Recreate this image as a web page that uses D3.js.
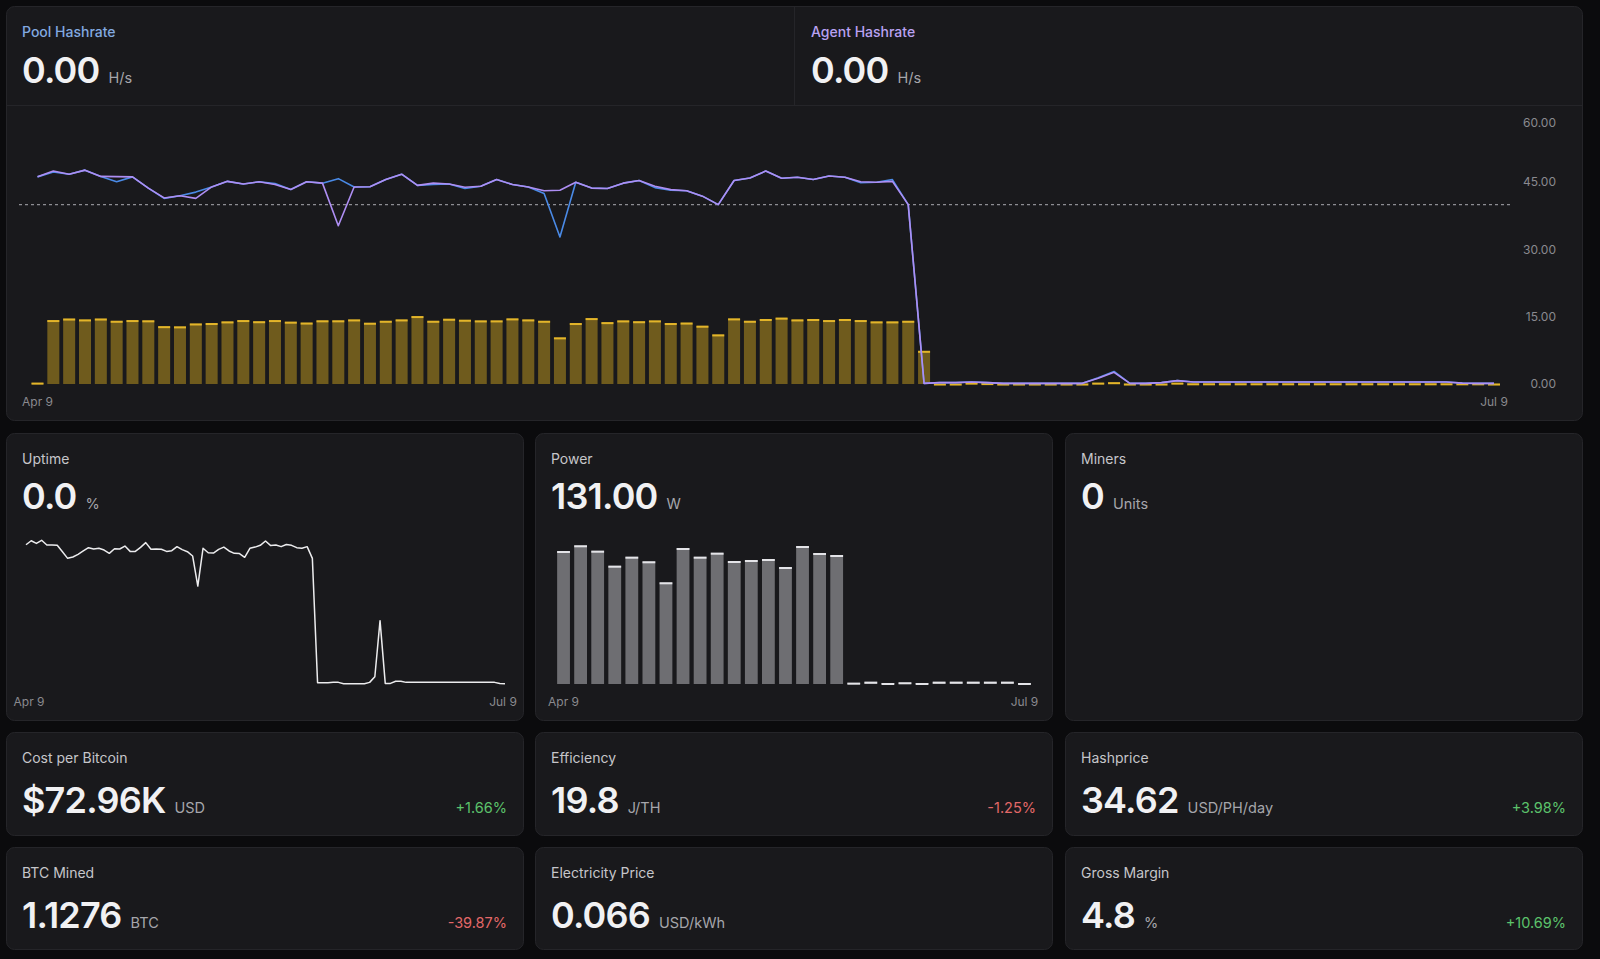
<!DOCTYPE html>
<html><head><meta charset="utf-8">
<script src="https://cdn.jsdelivr.net/npm/d3@7"></script>
<style>
html,body{margin:0;padding:0;background:#0b0b0d;overflow:hidden;}
svg{display:block;font-family:Inter,"Noto Sans",sans-serif;}
</style></head><body>
<svg id="c" width="1600" height="959"></svg>
<script>
// ---------- data ----------
const dateLabels = ["Apr 9", "Jul 9"];
const hashTicks = [0, 15, 30, 45, 60];
const targetHashrate = 40;

const agentHashrate = [46.2,47.5,46.8,47.7,46.3,46.25,46.2,43.7,41.5,42.0,
 41.4,43.95,45.2,44.6,45.1,44.5,43.4,45.1,44.8,35.3,
 43.95,44.0,45.6,46.8,44.3,44.8,44.6,43.9,44.1,45.6,
 44.5,43.95,43.1,43.2,45.0,43.7,43.6,44.8,45.4,44.1,
 43.35,43.1,41.9,40.0,45.4,45.95,47.5,45.9,46.1,45.6,
 46.4,46.1,45.1,45.0,45.2,40.0,0.15,0.3,0.3,0.45,
 0.3,0.15,0.15,0.15,0.15,0.15,0.15,1.3,2.6,0.15,
 0.15,0.3,0.75,0.45,0.45,0.45,0.45,0.45,0.45,0.45,
 0.45,0.45,0.45,0.45,0.45,0.45,0.45,0.45,0.45,0.45,
 0.2,0.15,0.15];

const poolHashrate = [46.2,47.3,46.8,47.7,46.3,45.1,46.2,43.7,41.4,42.0,
 42.8,43.95,45.2,44.6,45.1,44.7,43.4,45.1,44.8,45.8,
 43.95,44.0,45.6,46.8,44.3,44.5,44.6,43.6,44.1,45.6,
 44.5,43.95,42.5,32.8,45.0,43.7,43.6,44.8,45.4,43.8,
 43.2,43.1,41.9,40.0,45.4,45.95,47.5,45.9,46.1,45.6,
 46.4,46.1,44.9,45.0,45.6,40.0,0.15,0.3,0.3,0.45,
 0.3,0.15,0.15,0.15,0.15,0.15,0.15,1.4,2.8,0.15,
 0.15,0.3,0.75,0.45,0.45,0.45,0.45,0.45,0.45,0.45,
 0.45,0.45,0.45,0.45,0.45,0.45,0.45,0.45,0.45,0.45,
 0.2,0.15,0.15];

const hashBars = [0.3,14.26,14.6,14.4,14.6,14.1,14.26,14.2,12.9,12.85,
 13.5,13.6,13.96,14.26,14.0,14.26,13.9,13.7,14.2,14.2,
 14.4,13.66,14.1,14.4,15.15,14.1,14.55,14.33,14.18,14.18,
 14.63,14.4,14.1,10.4,13.6,14.7,13.8,14.18,14.0,14.18,
 13.6,13.7,13.0,11.06,14.63,14.1,14.5,14.8,14.4,14.5,
 14.26,14.5,14.26,13.96,13.96,14.1,7.4,0.1,0.1,0.3,
 0.2,0.1,0.1,0.1,0.1,0.1,0.1,0.3,0.4,0.1,
 0.1,0.1,0.3,0.15,0.15,0.15,0.15,0.15,0.15,0.15,
 0.15,0.15,0.15,0.15,0.15,0.15,0.15,0.15,0.15,0.15,
 0.15,0.15,0.1];

const uptimeSeries = [94.1,96.8,95.0,97.1,93.9,93.9,93.7,89.4,84.9,85.8,
 87.6,89.9,92.1,91.2,91.7,90.5,88.3,91.4,91.2,93.2,
 89.6,89.6,92.3,95.5,91.0,91.2,91.0,89.6,90.1,92.8,
 90.8,89.4,86.5,66.2,91.7,88.7,88.5,91.0,92.5,89.9,
 88.3,88.1,85.6,91.7,92.5,93.7,96.6,93.5,93.9,92.8,
 94.3,93.7,92.1,91.7,92.8,84.9,0.9,0.9,0.9,1.1,
 1.1,0.2,0.2,0.2,0.2,0.2,1.1,4.9,42.8,0.4,
 0.4,1.9,1.9,1.1,1.1,1.1,1.1,1.1,1.1,1.1,
 1.1,1.1,1.1,1.1,1.1,1.1,1.1,1.1,1.1,1.1,
 1.1,0.4,0.2];

const powerSeries = [133.0,138.7,133.3,118.3,127.3,122.7,101.7,136.0,127.3,131.3,
 123.0,124.0,125.0,117.0,138.0,131.0,129.0,1.3,2.3,1.0,
 1.7,1.0,2.3,2.3,2.3,2.3,2.3,1.0];

const headerLabels = ["Pool Hashrate", "Agent Hashrate"];
const headerValues = ["0.00", "0.00"];
const headerUnits = ["H/s", "H/s"];

const chartCardLabels = ["Uptime", "Power", "Miners"];
const chartCardValues = ["0.0", "131.00", "0"];
const chartCardUnits = ["%", "W", "Units"];

const statLabels = ["Cost per Bitcoin", "Efficiency", "Hashprice", "BTC Mined", "Electricity Price", "Gross Margin"];
const statValues = ["$72.96K", "19.8", "34.62", "1.1276", "0.066", "4.8"];
const statUnits = ["USD", "J/TH", "USD/PH/day", "BTC", "USD/kWh", "%"];
const statChanges = ["+1.66%", "-1.25%", "+3.98%", "-39.87%", "", "+10.69%"];

// ---------- drawing ----------
const svg = d3.select("#c");
const CARD = "#19191c", BORDER = "#252529";
const LABEL = "#c6c6ca", UNIT = "#a6a6ab", BIG = "#f1f1f3", AXIS = "#8a8a8f";
const GREEN = "#5cc26b", RED = "#e26868";

function card(x, y, w, h) {
  svg.append("rect").attr("x", x + 0.5).attr("y", y + 0.5)
    .attr("width", w - 1).attr("height", h - 1).attr("rx", 8)
    .attr("fill", CARD).attr("stroke", BORDER);
}
function valueBlock(x, yLabel, yVal, label, labelColor, value, unit, labelWeight) {
  svg.append("text").attr("x", x).attr("y", yLabel).attr("fill", labelColor)
    .attr("font-size", 14).attr("font-weight", labelWeight || 400).text(label);
  const t = svg.append("text").attr("x", x).attr("y", yVal).attr("fill", BIG)
    .attr("font-size", 36).attr("font-weight", 600).attr("letter-spacing", -0.8).text(value);
  const len = t.node().getComputedTextLength();
  svg.append("text").attr("x", x + len + 9).attr("y", yVal).attr("fill", UNIT)
    .attr("font-size", 14.5).text(unit);
}

// top card
card(6, 6, 1577, 415);
svg.append("line").attr("x1", 6).attr("x2", 1583).attr("y1", 105.5).attr("y2", 105.5).attr("stroke", BORDER);
svg.append("line").attr("x1", 794.5).attr("x2", 794.5).attr("y1", 6).attr("y2", 105).attr("stroke", BORDER);
const headerColors = ["#82a9e0", "#b9a2f2"];
const headerX = [22, 811];
headerLabels.forEach((l, i) => valueBlock(headerX[i], 37, 83, l, headerColors[i], headerValues[i], headerUnits[i], 500));

// main chart
const idx = d3.range(hashBars.length);
const x = d3.scalePoint().domain(idx).range([37.5, 1494]);
const y = d3.scaleLinear().domain([0, 60]).range([384, 115]);
const gMain = svg.append("g");
const bw = 12;
gMain.selectAll("rect.b").data(hashBars).join("rect").attr("class", "b")
  .attr("x", (d, i) => x(i) - bw / 2).attr("y", d => y(d))
  .attr("width", bw).attr("height", d => y(0) - y(d)).attr("fill", "#6f5b1d");
gMain.selectAll("rect.cap").data(hashBars).join("rect").attr("class", "cap")
  .attr("x", (d, i) => x(i) - bw / 2).attr("y", d => y(d))
  .attr("width", bw).attr("height", 2).attr("fill", "#e3b52a");
gMain.append("line").attr("x1", 19).attr("x2", 1513)
  .attr("y1", y(targetHashrate)).attr("y2", y(targetHashrate))
  .attr("stroke", "#8d8d92").attr("stroke-width", 1.2).attr("stroke-dasharray", "3,3");
const line = d3.line().x((d, i) => x(i)).y(d => y(d));
gMain.append("path").datum(poolHashrate).attr("d", line).attr("fill", "none")
  .attr("stroke", "#4a8ae6").attr("stroke-width", 1.6).attr("stroke-linejoin", "round");
gMain.append("path").datum(agentHashrate).attr("d", line).attr("fill", "none")
  .attr("stroke", "#ae8ef3").attr("stroke-width", 1.6).attr("stroke-linejoin", "round");
hashTicks.forEach(t => {
  gMain.append("text").attr("x", 1556).attr("y", Math.max(y(t), 122.5)).attr("dy", "0.35em")
    .attr("text-anchor", "end").attr("fill", AXIS).attr("font-size", 12).text(t.toFixed(2));
});
gMain.append("text").attr("x", x(0)).attr("y", 406).attr("text-anchor", "middle")
  .attr("fill", AXIS).attr("font-size", 12).text(dateLabels[0]);
gMain.append("text").attr("x", x(idx.length - 1)).attr("y", 406).attr("text-anchor", "middle")
  .attr("fill", AXIS).attr("font-size", 12).text(dateLabels[1]);

// row 2 cards
const colX = [6, 535, 1065], colW = 518;
chartCardLabels.forEach((l, i) => {
  card(colX[i], 433, colW, 288);
  valueBlock(colX[i] + 16, 464, 509, l, LABEL, chartCardValues[i], chartCardUnits[i]);
});

// uptime line
const xu = d3.scalePoint().domain(d3.range(uptimeSeries.length)).range([26, 505]);
const yu = d3.scaleLinear().domain([0, 100]).range([684, 536]);
svg.append("path").datum(uptimeSeries)
  .attr("d", d3.line().x((d, i) => xu(i)).y(d => yu(d)))
  .attr("fill", "none").attr("stroke", "#ececee").attr("stroke-width", 1.5).attr("stroke-linejoin", "round");
svg.append("text").attr("x", xu(0) + 3).attr("y", 706).attr("text-anchor", "middle")
  .attr("fill", AXIS).attr("font-size", 12).text(dateLabels[0]);
svg.append("text").attr("x", xu(uptimeSeries.length - 1) - 2).attr("y", 706).attr("text-anchor", "middle")
  .attr("fill", AXIS).attr("font-size", 12).text(dateLabels[1]);

// power bars
const xp = d3.scaleBand().domain(d3.range(powerSeries.length)).range([555, 1033]).paddingInner(0.25).paddingOuter(0.125);
const yp = d3.scaleLinear().domain([0, 150]).range([684, 534]);
svg.selectAll("rect.p").data(powerSeries).join("rect").attr("class", "p")
  .attr("x", (d, i) => xp(i)).attr("y", d => yp(d))
  .attr("width", xp.bandwidth()).attr("height", d => yp(0) - yp(d)).attr("fill", "#6e6e72");
svg.selectAll("rect.pc").data(powerSeries).join("rect").attr("class", "pc")
  .attr("x", (d, i) => xp(i)).attr("y", d => yp(d))
  .attr("width", xp.bandwidth()).attr("height", 2).attr("fill", "#e4e4e8");
svg.append("text").attr("x", xp(0) + xp.bandwidth() / 2).attr("y", 706).attr("text-anchor", "middle")
  .attr("fill", AXIS).attr("font-size", 12).text(dateLabels[0]);
svg.append("text").attr("x", xp(powerSeries.length - 1) + xp.bandwidth() / 2).attr("y", 706).attr("text-anchor", "middle")
  .attr("fill", AXIS).attr("font-size", 12).text(dateLabels[1]);

// stat cards
const rowY = [732, 847], rowH = [104, 103];
statLabels.forEach((l, i) => {
  const c = i % 3, r = Math.floor(i / 3);
  const cx = colX[c], cy = rowY[r];
  card(cx, cy, colW, rowH[r]);
  valueBlock(cx + 16, cy + 31, cy + 81, l, LABEL, statValues[i], statUnits[i]);
  if (statChanges[i]) {
    svg.append("text").attr("x", cx + colW - 17).attr("y", cy + 81).attr("text-anchor", "end")
      .attr("fill", statChanges[i].startsWith("-") ? RED : GREEN)
      .attr("font-size", 14.5).text(statChanges[i]);
  }
});
</script>
</body></html>
